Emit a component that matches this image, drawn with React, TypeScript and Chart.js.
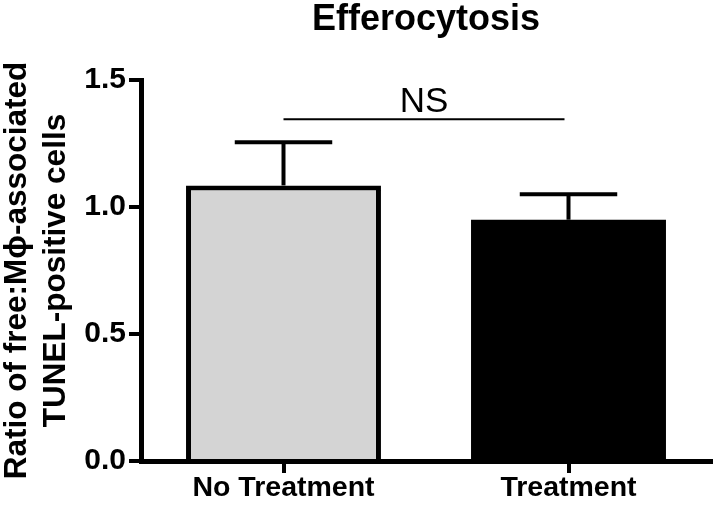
import React, { useEffect, useRef } from "react";
import { Chart, registerables } from "chart.js";

Chart.register(...registerables);

const categories = ["No Treatment", "Treatment"];
const means = [1.085, 0.95];
const sems = [0.17, 0.1];
const barColors = ["#d4d4d4", "#000000"];
const yTicks = [0, 0.5, 1.0, 1.5];
const nsLevel = 1.345;
const nsLabel = "NS";
const chartTitle = "Efferocytosis";
const yTitle = ["Ratio of free:M\u03d5-associated", "TUNEL-positive cells"];

const FONT = "'Liberation Sans', Arial, Helvetica, sans-serif";

const annotations = {
  id: "errorBarsAndNS",
  afterDatasetsDraw(chart: any) {
    const { ctx } = chart;
    const meta = chart.getDatasetMeta(0);
    const y = chart.scales.y;
    ctx.save();
    ctx.strokeStyle = "#000";
    ctx.lineCap = "butt";
    meta.data.forEach((bar: any, i: number) => {
      const base = y.getPixelForValue(means[i]);
      const top = y.getPixelForValue(means[i] + sems[i]);
      const half = bar.width * 0.25;
      ctx.lineWidth = 4;
      ctx.beginPath();
      ctx.moveTo(bar.x, base);
      ctx.lineTo(bar.x, top);
      ctx.stroke();
      ctx.beginPath();
      ctx.moveTo(bar.x - half, top);
      ctx.lineTo(bar.x + half, top);
      ctx.stroke();
    });
    const x0 = meta.data[0].x;
    const x1 = meta.data[1].x;
    const ly = y.getPixelForValue(nsLevel);
    ctx.lineWidth = 2;
    ctx.beginPath();
    ctx.moveTo(x0, ly);
    ctx.lineTo(x1 - 4, ly);
    ctx.stroke();
    ctx.fillStyle = "#000";
    ctx.font = `35px ${FONT}`;
    ctx.textAlign = "center";
    ctx.textBaseline = "alphabetic";
    ctx.fillText(nsLabel, (x0 + x1) / 2 - 2, ly - 7);
    ctx.restore();
  },
};

export default function App() {
  const ref = useRef<HTMLCanvasElement>(null);
  useEffect(() => {
    if (!ref.current) return;
    const chart = new Chart(ref.current, {
      type: "bar",
      data: {
        labels: categories,
        datasets: [
          {
            data: means,
            backgroundColor: barColors,
            borderColor: "#000",
            borderWidth: [5, 0],
            borderSkipped: "start",
            barPercentage: 0.684,
            categoryPercentage: 1,
          },
        ],
      },
      plugins: [annotations],
      options: {
        responsive: false,
        animation: false,
        layout: { padding: { left: 0, right: 10, top: 0, bottom: 0 } },
        plugins: {
          legend: { display: false },
          tooltip: { enabled: false },
          title: {
            display: true,
            text: chartTitle,
            fullSize: false,
            color: "#000",
            font: { family: FONT, size: 36, weight: "bold", lineHeight: "40px" },
            padding: { top: 0, bottom: 40 },
          },
        },
        scales: {
          x: {
            offset: true,
            grid: {
              offset: false,
              drawOnChartArea: false,
              drawTicks: true,
              tickLength: 12,
              tickWidth: 4,
              tickColor: "#000",
              lineWidth: 4,
              color: "#000",
            },
            border: { display: true, color: "#000", width: 5 },
            ticks: {
              color: "#000",
              padding: 1,
              maxRotation: 0,
              font: { family: FONT, size: 28.5, weight: "bold", lineHeight: 1 },
            },
            afterFit: (scale: any) => {
              scale.height = 46;
            },
          },
          y: {
            min: 0,
            max: 1.5,
            afterBuildTicks: (scale: any) => {
              scale.ticks = yTicks.map((v) => ({ value: v }));
            },
            grid: {
              drawOnChartArea: false,
              drawTicks: true,
              tickLength: 12,
              tickWidth: 4,
              tickColor: "#000",
              lineWidth: 4,
              color: "#000",
            },
            border: { display: true, color: "#000", width: 5 },
            ticks: {
              color: "#000",
              padding: 3,
              font: { family: FONT, size: 30, weight: "bold" },
              callback: (v: any) => Number(v).toFixed(1),
            },
            title: {
              display: true,
              text: yTitle,
              color: "#000",
              font: { family: FONT, size: 31.5, weight: "bold", lineHeight: "39px" },
              padding: { top: -2, bottom: 0 },
            },
            afterFit: (scale: any) => {
              scale.width = 141;
            },
          },
        },
      },
    });
    return () => chart.destroy();
  }, []);
  return (
    <div style={{ position: "absolute", left: 0, top: 0, width: 721, height: 507, background: "#fff" }}>
      <canvas ref={ref} width={721} height={507} style={{ display: "block" }} />
    </div>
  );
}
